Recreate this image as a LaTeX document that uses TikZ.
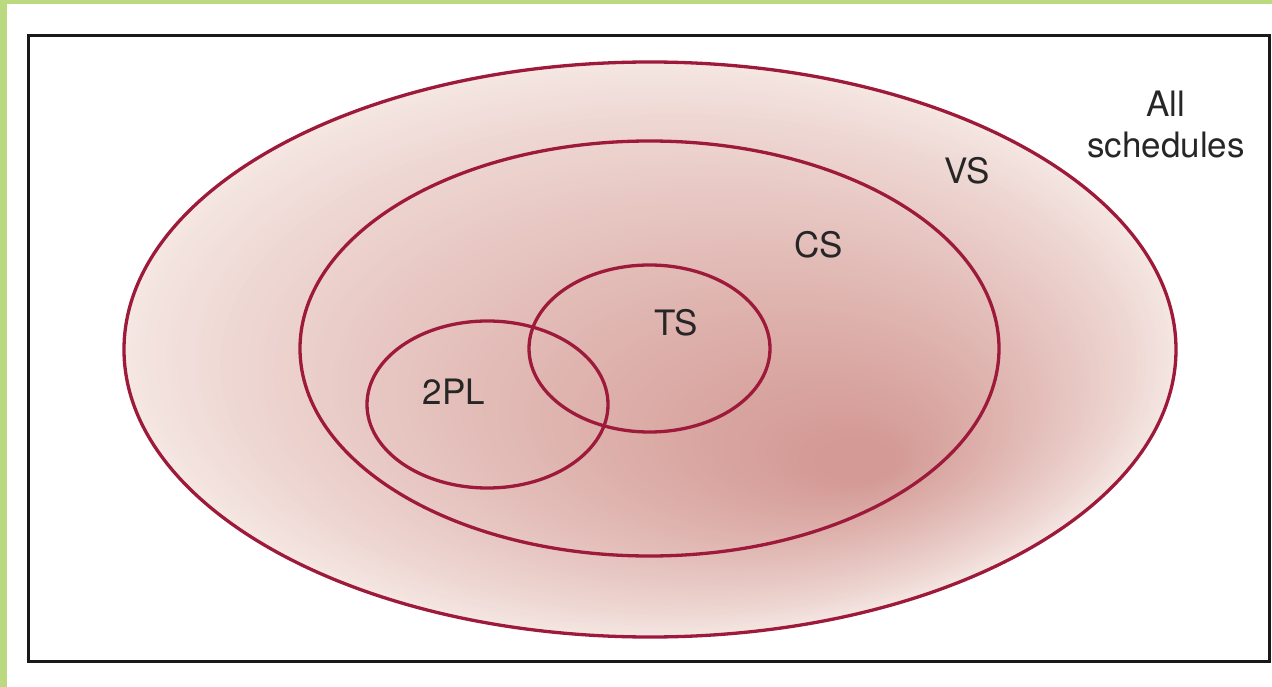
\documentclass[tikz,border=0pt]{standalone}
\usepackage{fontspec}
\setmainfont{TeX Gyre Heros}
\definecolor{greenbar}{HTML}{BBD97F}
\definecolor{rimc}{HTML}{9E1A3A}
\definecolor{lightc}{HTML}{F5E7E3}
\definecolor{darkc}{HTML}{D49A95}
\tikzset{
  setline/.style={draw=rimc, line width=3.3pt},
  lbl/.style={font=\fontsize{35}{41}\selectfont, text=black!85, inner sep=0pt, align=center},
}
\begin{document}
\begin{tikzpicture}[x=1pt,y=-1pt]
\useasboundingbox (0,0) rectangle (1272,687);
\fill[white] (0,0) rectangle (1272,687);
% green bars
\fill[greenbar] (0,0) rectangle (1272,4);
\fill[greenbar] (0,0) rectangle (7,687);
% frame
\draw[line width=3pt, black!90] (28.5,36) rectangle (1269.5,661);
% shaded VS region: nested ellipses from outer rim to focal point
\foreach \i in {0,...,140}{
  \pgfmathsetmacro\t{\i/140}
  \pgfmathsetmacro\cx{650+223*\t}
  \pgfmathsetmacro\cy{349.5+120.5*\t}
  \pgfmathsetmacro\rx{526*(1-\t)+0.01}
  \pgfmathsetmacro\ry{287.5*(1-\t)+0.01}
  \pgfmathsetmacro\p{min(100,106*(\t^0.85))}
  \fill[darkc!\p!lightc] (\cx,\cy) ellipse [x radius=\rx, y radius=\ry];
}
% set boundaries
\draw[setline] (650,349.5) ellipse [x radius=526, y radius=287.5];
\draw[setline] (649.5,348.5) ellipse [x radius=349.5, y radius=207.5];
\draw[setline] (649.5,348.5) ellipse [x radius=120.5, y radius=83.5];
\draw[setline] (487.5,404.5) ellipse [x radius=120.5, y radius=83.5];
% labels
\node[lbl] (all) at (1166,125) {All\\schedules};
\node[lbl] (vs) at (967,171) {VS};
\node[lbl] (cs) at (819,245) {CS};
\node[lbl] (ts) at (676,323) {TS};
\node[lbl] (tpl) at (454,392) {2PL};
\end{tikzpicture}
\end{document}
